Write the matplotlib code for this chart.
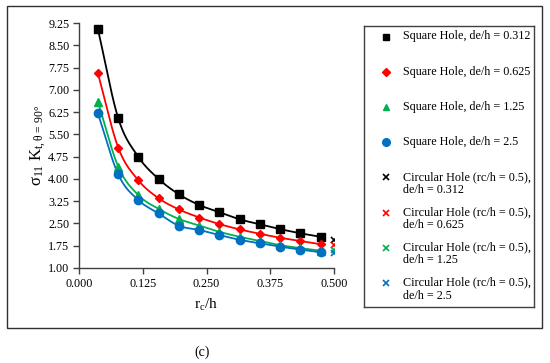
import numpy as np
import matplotlib
matplotlib.use("Agg")
import matplotlib.pyplot as plt
from matplotlib.patches import Rectangle
from matplotlib.ticker import FormatStrFormatter, FixedLocator

plt.rcParams['font.family'] = ['Liberation Serif', 'DejaVu Serif']
plt.rcParams['mathtext.fontset'] = 'stix'

# data
rc_h = [0.037, 0.077, 0.116, 0.156, 0.196, 0.236, 0.275, 0.315, 0.355, 0.394, 0.434, 0.474]
sq_0312 = [9.05, 6.04, 4.75, 4.00, 3.48, 3.12, 2.88, 2.64, 2.47, 2.31, 2.17, 2.05]
sq_0625 = [7.56, 5.05, 3.96, 3.35, 2.97, 2.70, 2.48, 2.30, 2.15, 2.02, 1.91, 1.80]
sq_125 = [6.60, 4.41, 3.46, 2.99, 2.65, 2.43, 2.22, 2.05, 1.91, 1.77, 1.67, 1.58]
sq_25 = [6.21, 4.15, 3.29, 2.84, 2.42, 2.28, 2.11, 1.95, 1.83, 1.72, 1.62, 1.53]

circ_x = 0.5
circ_vals = [1.95, 1.76, 1.61, 1.52]

x_ticks = [0.0, 0.125, 0.25, 0.375, 0.5]
y_ticks = [1.00, 1.75, 2.50, 3.25, 4.00, 4.75, 5.50, 6.25, 7.00, 7.75, 8.50, 9.25]

colors = ['#000000', '#FF0000', '#00B050', '#0070C0']
markers = ['s', 'D', '^', 'o']
msizes = [5.5, 4.5, 5.5, 6]
sq_labels = ['Square Hole, de/h = 0.312', 'Square Hole, de/h = 0.625',
             'Square Hole, de/h = 1.25', 'Square Hole, de/h = 2.5']
circ_labels = ['Circular Hole (rc/h = 0.5),\nde/h = 0.312', 'Circular Hole (rc/h = 0.5),\nde/h = 0.625',
               'Circular Hole (rc/h = 0.5),\nde/h = 1.25', 'Circular Hole (rc/h = 0.5),\nde/h = 2.5']


def smooth_line(x, y, n=20):
    # catmull-rom curve through the points, like excel's smoothed line
    x = np.asarray(x, float)
    y = np.asarray(y, float)
    px = np.concatenate([[2 * x[0] - x[1]], x, [2 * x[-1] - x[-2]]])
    py = np.concatenate([[2 * y[0] - y[1]], y, [2 * y[-1] - y[-2]]])
    t = np.linspace(0, 1, n)
    xs, ys = [], []
    for i in range(1, len(px) - 2):
        for p, out in ((px, xs), (py, ys)):
            p0, p1, p2, p3 = p[i - 1], p[i], p[i + 1], p[i + 2]
            out.append(0.5 * (2 * p1 + (-p0 + p2) * t + (2 * p0 - 5 * p1 + 4 * p2 - p3) * t ** 2
                              + (-p0 + 3 * p1 - 3 * p2 + p3) * t ** 3))
    return np.concatenate(xs), np.concatenate(ys)


fig = plt.figure(figsize=(5.5, 3.63), dpi=100)
ax = fig.add_axes([79 / 550, 1 - 268 / 363, 255 / 550, 245 / 363])

for ys, c, m, ms in zip([sq_0312, sq_0625, sq_125, sq_25], colors, markers, msizes):
    sx, sy = smooth_line(rc_h, ys)
    ax.plot(sx, sy, color=c, lw=1.3, zorder=2)
    ax.plot(rc_h, ys, linestyle='none', marker=m, color=c, markersize=ms, zorder=3)

for v, c in zip(circ_vals, colors):
    ax.plot([circ_x], [v], linestyle='none', marker='x', color=c, markersize=5, mew=1.2, zorder=3)

ax.set_xlim(0, 0.5)
ax.set_ylim(1.0, 9.25)
ax.xaxis.set_major_locator(FixedLocator(x_ticks))
ax.yaxis.set_major_locator(FixedLocator(y_ticks))
ax.xaxis.set_major_formatter(FormatStrFormatter('%.3f'))
ax.yaxis.set_major_formatter(FormatStrFormatter('%.2f'))
ax.spines['top'].set_visible(False)
ax.spines['right'].set_visible(False)
for s in ('left', 'bottom'):
    ax.spines[s].set_color('#404040')
    ax.spines[s].set_linewidth(1.0)
ax.tick_params(direction='out', length=4, width=1.0, color='#404040', labelsize=8.7, pad=3)
ax.set_xlabel(r'r$_\mathregular{c}$/h', fontsize=11, labelpad=5)
ax.set_ylabel(r'$\mathregular{\sigma_{11}\ K_{t,\theta\,=\,90°}}$', fontsize=12, labelpad=0)
ax.patch.set_alpha(0)

# legend drawn by hand so the marker sits on the first line of two-line entries
lax = fig.add_axes([364 / 550, 1 - 307 / 363, 170 / 550, 281 / 363])
lax.set_xlim(0, 170)
lax.set_ylim(281, 0)
lax.set_xticks([])
lax.set_yticks([])
for s in lax.spines.values():
    s.set_color('#404040')
    s.set_linewidth(1.0)
lax.patch.set_alpha(0)

entries = list(zip(sq_labels, colors, markers, msizes)) + [(l, c, 'x', 5) for l, c in zip(circ_labels, colors)]
for i, (lab, c, m, ms) in enumerate(entries):
    yy = 11 + 35.1 * i
    lax.plot([22], [yy], linestyle='none', marker=m, color=c, markersize=ms - 0.5, mew=1.2 if m == 'x' else 1)
    lax.text(39, yy - 6.5, lab, fontsize=8.7, va='top', ha='left', linespacing=1.15)

fig.patches.append(Rectangle((7 / 550, 1 - 328 / 363), 535 / 550, 322 / 363, transform=fig.transFigure,
                             fill=False, edgecolor='#303030', lw=1.0))
fig.text(202 / 550, 1 - 352 / 363, '(c)', fontsize=10, ha='center', va='center')

fig.savefig('out.png', dpi=100)
